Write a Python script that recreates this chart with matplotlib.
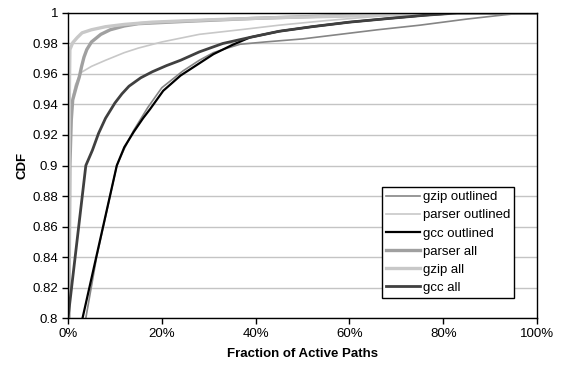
import matplotlib
matplotlib.use('Agg')
import matplotlib.pyplot as plt
from matplotlib.ticker import FixedLocator, FuncFormatter

plt.rcParams['font.family'] = ['Liberation Sans', 'DejaVu Sans']

# values (x in percent of active paths, y = CDF)
gzip_out_x = [3.8, 6.1, 10.4, 12, 14, 17, 20, 24.5, 28, 31, 34, 36.7, 42, 50, 58, 66, 75, 85, 92.8, 97, 100]
gzip_out_y = [0.8, 0.84, 0.9, 0.911, 0.923, 0.938, 0.951, 0.962, 0.969, 0.974, 0.977, 0.9795, 0.981, 0.983, 0.986, 0.989, 0.992, 0.996, 0.9987, 1.0, 1.0]

parser_out_x = [0.3, 0.4, 0.6, 1, 1.6, 2.3, 2.8, 5, 8, 12, 15, 20, 28, 36.7, 45, 55, 68.6, 75, 100]
parser_out_y = [0.8, 0.9, 0.93, 0.945, 0.953, 0.958, 0.961, 0.965, 0.969, 0.974, 0.977, 0.981, 0.986, 0.989, 0.992, 0.995, 0.9985, 1.0, 1.0]

gcc_out_x = [3.1, 10.4, 12, 14, 16, 17.5, 20.3, 24, 28, 31, 35, 38.8, 45, 52, 60, 68.7, 76, 83, 100]
gcc_out_y = [0.8, 0.9, 0.912, 0.922, 0.931, 0.937, 0.949, 0.959, 0.967, 0.973, 0.979, 0.984, 0.988, 0.991, 0.994, 0.9965, 0.9985, 1.0, 1.0]

parser_all_x = [0.2, 0.4, 0.7, 1, 1.8, 2.4, 2.9, 3.4, 4, 5, 7, 9, 12, 15, 25, 40, 55, 70, 80, 100]
parser_all_y = [0.8, 0.9, 0.93, 0.943, 0.952, 0.958, 0.965, 0.971, 0.976, 0.981, 0.986, 0.989, 0.9915, 0.993, 0.9945, 0.9965, 0.998, 0.9993, 1.0, 1.0]

gzip_all_x = [0.2, 0.3, 0.4, 1, 2, 3, 5, 8, 12, 18, 30, 45, 60, 75, 85, 100]
gzip_all_y = [0.8, 0.95, 0.976, 0.9805, 0.984, 0.987, 0.989, 0.991, 0.9925, 0.994, 0.9955, 0.997, 0.998, 0.9993, 1.0, 1.0]

gcc_all_x = [0, 3.8, 5.2, 6.5, 8, 10, 11.5, 13, 15.5, 18, 21, 24, 28, 33, 38.8, 45, 52, 60, 68.7, 76, 83, 100]
gcc_all_y = [0.8, 0.9, 0.91, 0.921, 0.931, 0.941, 0.947, 0.952, 0.9575, 0.9615, 0.9655, 0.969, 0.9745, 0.98, 0.984, 0.988, 0.991, 0.994, 0.9965, 0.9985, 1.0, 1.0]

y_ticks = [0.8, 0.82, 0.84, 0.86, 0.88, 0.9, 0.92, 0.94, 0.96, 0.98, 1]
y_tick_labels = ['0.8', '0.82', '0.84', '0.86', '0.88', '0.9', '0.92', '0.94', '0.96', '0.98', '1']
x_ticks = [0, 20, 40, 60, 80, 100]

fig = plt.figure(figsize=(5.64, 3.70), dpi=100)
ax = fig.add_axes([0.1206, 0.1405, 0.8316, 0.8244])

ax.plot(gzip_out_x, gzip_out_y, color='#858585', lw=1.2, label='gzip outlined')
ax.plot(parser_out_x, parser_out_y, color='#c8c8c8', lw=1.2, label='parser outlined')
ax.plot(gcc_out_x, gcc_out_y, color='black', lw=1.6, label='gcc outlined')
ax.plot(parser_all_x, parser_all_y, color='#a0a0a0', lw=2.4, label='parser all')
ax.plot(gzip_all_x, gzip_all_y, color='#c8c8c8', lw=2.4, label='gzip all')
ax.plot(gcc_all_x, gcc_all_y, color='#404040', lw=2.0, label='gcc all')

ax.set_xlim(0, 100)
ax.set_ylim(0.8, 1)
ax.yaxis.set_major_locator(FixedLocator(y_ticks))
ax.set_yticklabels(y_tick_labels)
ax.xaxis.set_major_locator(FixedLocator(x_ticks))
ax.xaxis.set_major_formatter(FuncFormatter(lambda v, p: '%d%%' % v))
ax.tick_params(labelsize=9.5, direction='out', length=4, width=1, color='black', pad=3)

ax.grid(True, axis='y', color='#c4c4c4', lw=1)
ax.set_axisbelow(True)
for s in ax.spines.values():
    s.set_color('black')
    s.set_linewidth(1)

ax.set_xlabel('Fraction of Active Paths', fontsize=9.5, fontweight='bold', labelpad=6)
ax.set_ylabel('CDF', fontsize=9.5, fontweight='bold', labelpad=3)

leg = ax.legend(loc='lower left', bbox_to_anchor=(0.6695, 0.0656), fontsize=9.5,
                frameon=True, fancybox=False, edgecolor='black', framealpha=1,
                handlelength=2.6, handletextpad=0.2, labelspacing=0.45,
                borderpad=0.3, borderaxespad=0)
leg.get_frame().set_linewidth(1)

fig.savefig('out.png', dpi=100)
